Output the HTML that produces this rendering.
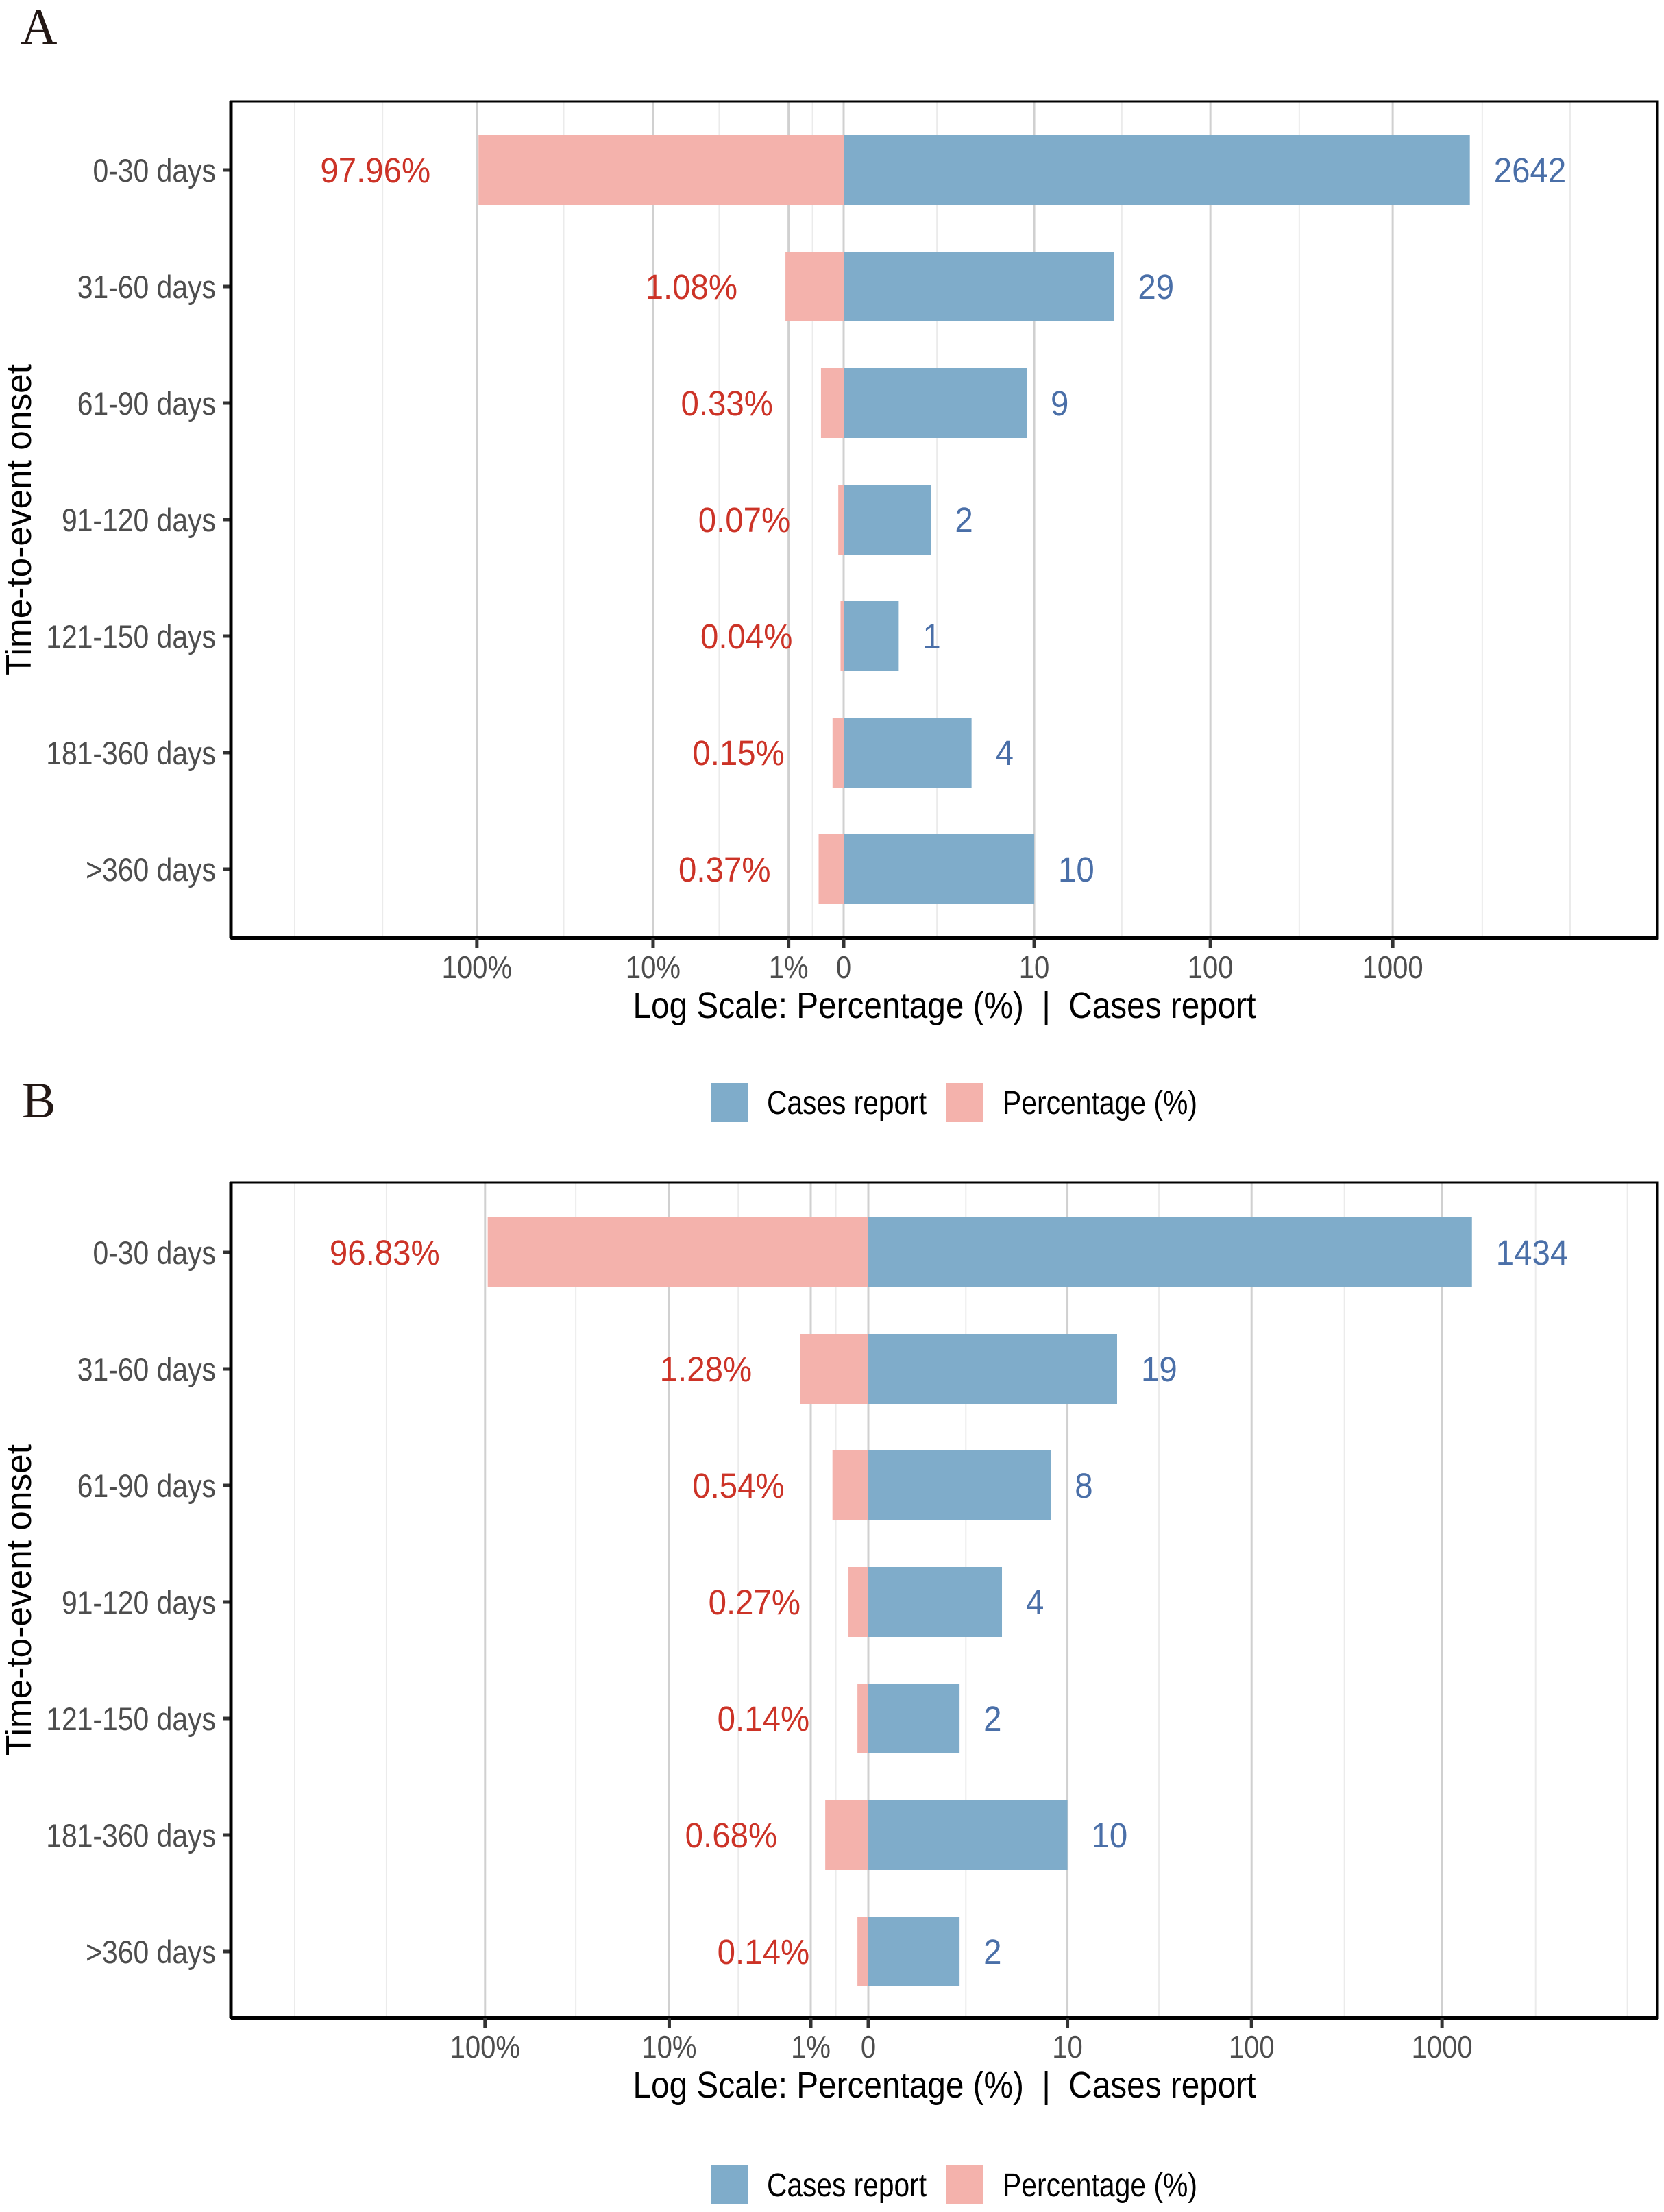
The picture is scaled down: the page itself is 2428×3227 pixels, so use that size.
<!DOCTYPE html>
<html><head><meta charset="utf-8"><style>
html,body{margin:0;padding:0;background:#fff;}
svg{display:block;font-family:"Liberation Sans",Arial,sans-serif;}
</style></head><body>
<svg id="fig" width="2428" height="3227" viewBox="0 0 2428 3227" xmlns="http://www.w3.org/2000/svg"></svg>
<script>
const categories = ["0-30 days","31-60 days","61-90 days","91-120 days","121-150 days","181-360 days",">360 days"];
const casesA = [2642,29,9,2,1,4,10];
const pctA = [97.96,1.08,0.33,0.07,0.04,0.15,0.37];
const casesB = [1434,19,8,4,2,10,2];
const pctB = [96.83,1.28,0.54,0.27,0.14,0.68,0.14];
const pctTickLabels = ["100%","10%","1%"];
const pctTickValues = [100,10,1];
const caseTickLabels = ["0","10","100","1000"];
const caseTickValues = [0,10,100,1000];

const NS="http://www.w3.org/2000/svg";
const svg=document.getElementById('fig');
function el(tag,attrs,parent){const e=document.createElementNS(NS,tag);for(const k in attrs)e.setAttribute(k,attrs[k]);(parent||svg).appendChild(e);return e;}
function txt(x,y,s,size,fill,anchor,sx,parent){
  const g=el('g',{transform:`translate(${x},${y}) scale(${sx},1)`},parent);
  const t=el('text',{x:0,y:0,'font-size':size,fill:fill,'text-anchor':anchor},g);
  t.textContent=s;return t;}

function panel(cfg){
  const {label,labelY,top,bottom,left,right,zero,k,cases,pct,name}=cfg;
  const g=el('g',{});
  
  
  const xc=v=>zero+Math.log10(v+1)*k;
  const xp=v=>zero-Math.log10(v+1)*k;
  const tt=t=>zero+t*k;
  const L=el('text',{x:cfg.letterX,y:labelY,'font-size':74,fill:'#231815','font-family':'"Liberation Serif",serif'},g);
  L.textContent=label;
  
  
  [-3,-2.52,-1.53,-0.68,-0.17,0.51,1.52,2.49,3.49,3.97].forEach(t=>{
    const x=tt(t); if(x>left&&x<right){const l=el('line',{x1:x,x2:x,y1:top,y2:bottom,stroke:'#ebebeb','stroke-width':2},g);
    }
  });
  const majors=pctTickValues.map(xp).concat(caseTickValues.map(xc));
  majors.forEach(x=>{const l=el('line',{x1:x,x2:x,y1:top,y2:bottom,stroke:'#d0d0d0','stroke-width':3},g);
    });
  const rowY=i=>cfg.row0+i*cfg.rowStep;
  categories.forEach((c,i)=>{
    const y=rowY(i);
    const xr=xc(cases[i]), xl=xp(pct[i]);
    const rp=el('rect',{x:xl,y:y-51,width:zero-xl,height:102,fill:'#f4b2ac'},g);
    
    const rc=el('rect',{x:zero,y:y-51,width:xr-zero,height:102,fill:'#7facca'},g);
    
    const tp=txt(xl-70,y+18,pct[i].toFixed(2)+'%',51,'#cc3327','end',0.93,g);
    
    const tc=txt(xr+35,y+18,String(cases[i]),51,'#4a6fa8','start',0.93,g);
    
    const tk=el('line',{x1:left-12,x2:left,y1:y,y2:y,stroke:'#333','stroke-width':5},g);
    
    const yl=txt(left-22,y+17,c,47,'#4d4d4d','end',0.87,g);
    
  });
  const b=el('rect',{x:left,y:top,width:right-left,height:bottom-top,fill:'none',stroke:'#000','stroke-width':3},g);
  
  el('line',{x1:left,x2:right+1,y1:bottom,y2:bottom,stroke:'#000','stroke-width':6},g);
  el('line',{x1:left,x2:left,y1:top,y2:bottom,stroke:'#000','stroke-width':5},g);
  const ticks=pctTickValues.map((v,i)=>[xp(v),pctTickLabels[i]]).concat(caseTickValues.map((v,i)=>[xc(v),caseTickLabels[i]]));
  ticks.forEach(([x,s])=>{
    const l=el('line',{x1:x,x2:x,y1:bottom,y2:bottom+14,stroke:'#333','stroke-width':5},g);
    
    const t=txt(x,bottom+58,s,46,'#4d4d4d','middle',0.87,g);
    
  });
  const at=el('text',{x:1378,y:bottom+116,'font-size':54,fill:'#000','text-anchor':'middle',textLength:909,lengthAdjust:'spacingAndGlyphs','xml:space':'preserve'},g);
  at.setAttribute('style','white-space:pre');
  at.textContent='Log Scale: Percentage (%)  |  Cases report';
  
  const cy=(top+bottom)/2;
  const yt=el('text',{x:0,y:0,'font-size':52,fill:'#000','text-anchor':'middle',transform:`translate(45,${cy}) rotate(-90)`,textLength:455,lengthAdjust:'spacingAndGlyphs'},g);
  yt.textContent='Time-to-event onset';
  
  const ly=cfg.legendY;
  const lg=el('g',{},g);
  
  const k1=el('rect',{x:1037,y:ly-29,width:54,height:57,fill:'#7facca'},lg);
  
  const t1=el('text',{x:1119,y:ly+16,'font-size':48,fill:'#000',textLength:233,lengthAdjust:'spacingAndGlyphs'},lg);
  t1.textContent='Cases report';
  
  const k2=el('rect',{x:1381,y:ly-29,width:54,height:57,fill:'#f4b2ac'},lg);
  
  const t2=el('text',{x:1463,y:ly+16,'font-size':48,fill:'#000',textLength:284,lengthAdjust:'spacingAndGlyphs'},lg);
  t2.textContent='Percentage (%)';
  
}
panel({name:'panel-a',label:'A',letterX:30,labelY:64,top:148,bottom:1369,left:337,right:2418,zero:1231,k:267,row0:248,rowStep:170,cases:casesA,pct:pctA,legendY:1609});
panel({name:'panel-b',label:'B',letterX:32,labelY:1630,top:1725,bottom:2944,left:337,right:2418,zero:1267,k:279,row0:1827,rowStep:170,cases:casesB,pct:pctB,legendY:3188});
</script>
</body></html>
